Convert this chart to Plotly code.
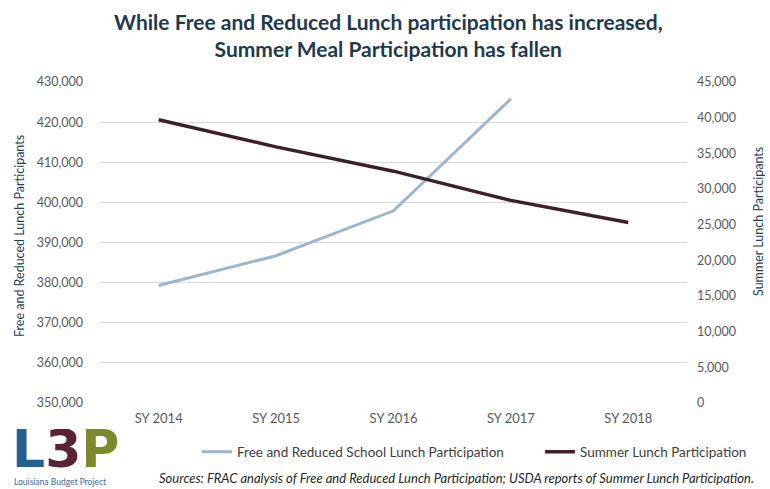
import plotly.graph_objects as go

# ---- data ----
years = ["SY 2014", "SY 2015", "SY 2016", "SY 2017", "SY 2018"]
free_reduced = [379300, 386700, 397900, 425800, None]
summer = [39700, 35900, 32500, 28400, 25300]

left_ticks = list(range(350000, 430001, 10000))
right_ticks = list(range(0, 45001, 5000))

title_text = ("While Free and Reduced Lunch participation has increased,<br>"
              "Summer Meal Participation has fallen")
left_title = "Free and Reduced Lunch Participants"
right_title = "Summer Lunch Participants"
source_text = ("Sources: FRAC analysis of Free and Reduced Lunch Participation; "
               "USDA reports of Summer Lunch Participation.")

W, H = 770, 489
ML, MR, MT, MB = 100, 83, 82, 86
PW = W - ML - MR
PH = H - MT - MB

def px_x(x):
    return (x - ML) / PW

def px_y(y):
    return (H - MB - y) / PH

FONT = "Lato"
TICK_COLOR = "#595959"
TITLE_COLOR = "#243f52"

fig = go.Figure()
fig.add_trace(go.Scatter(
    x=years, y=free_reduced, mode="lines", name="Free and Reduced School Lunch Participation",
    line=dict(color="#9db6cf", width=3), yaxis="y", legend="legend"))
fig.add_trace(go.Scatter(
    x=years, y=summer, mode="lines", name="Summer Lunch Participation",
    line=dict(color="#3d1f2c", width=3.5), yaxis="y2", legend="legend2"))

legend_font = dict(size=13.5, color="#404040", family=FONT)
fig.update_layout(
    width=W, height=H,
    margin=dict(l=ML, r=MR, t=MT, b=MB),
    paper_bgcolor="white", plot_bgcolor="white",
    font=dict(family=FONT, color=TICK_COLOR),
    showlegend=True,
    legend=dict(orientation="h", x=px_x(197), y=px_y(452), xanchor="left", yanchor="middle",
                font=legend_font, bgcolor="rgba(0,0,0,0)"),
    legend2=dict(orientation="h", x=px_x(540), y=px_y(452), xanchor="left", yanchor="middle",
                 font=legend_font, bgcolor="rgba(0,0,0,0)"),
    xaxis=dict(type="category", range=[-0.5, 4.5], showgrid=False, showline=False,
               zeroline=False, ticks="", tickfont=dict(size=13, color=TICK_COLOR),
               ticklabelstandoff=6),
    yaxis=dict(range=[350000, 430000], tickvals=left_ticks, tickformat=",d",
               showgrid=True, gridcolor="#d9d9d9", gridwidth=1, zeroline=False,
               showline=False, ticks="", ticklabelstandoff=16,
               tickfont=dict(size=12.5, color=TICK_COLOR)),
    yaxis2=dict(range=[0, 45000], tickvals=right_ticks, tickformat=",d",
                overlaying="y", side="right", showgrid=False, zeroline=False,
                showline=False, ticks="", ticklabelstandoff=9,
                tickfont=dict(size=12.5, color=TICK_COLOR)),
)

annotations = [
    dict(text="<b>" + title_text + "</b>", x=px_x(388), y=px_y(35), xref="paper", yref="paper",
         xanchor="center", yanchor="middle", showarrow=False,
         font=dict(size=21, color="#1f3a4d", family=FONT)),
    dict(text=left_title, x=px_x(19), y=px_y(236), xref="paper", yref="paper",
         textangle=-90, xanchor="center", yanchor="middle", showarrow=False,
         font=dict(size=12.5, color=TITLE_COLOR, family=FONT)),
    dict(text=right_title, x=px_x(758), y=px_y(222), xref="paper", yref="paper",
         textangle=-90, xanchor="center", yanchor="middle", showarrow=False,
         font=dict(size=12.5, color=TITLE_COLOR, family=FONT)),
    dict(text="<i>" + source_text + "</i>", x=px_x(756), y=px_y(478), xref="paper", yref="paper",
         xanchor="right", yanchor="middle", showarrow=False,
         font=dict(size=13, color="#262626", family=FONT)),
    dict(text=("<b><span style='color:#25618f'>L</span>"
               "<span style='color:#5b2236'>3</span>"
               "<span style='color:#7c8a2c'>P</span></b>"),
         x=px_x(10), y=px_y(449), xref="paper", yref="paper",
         xanchor="left", yanchor="middle", showarrow=False, height=40, valign="middle",
         font=dict(size=52, family="DejaVu Sans", color="#25618f")),
    dict(text="Louisiana Budget Project", x=px_x(12), y=px_y(482), xref="paper", yref="paper",
         xanchor="left", yanchor="middle", showarrow=False,
         font=dict(size=8.5, color="#3a6b93", family=FONT)),
]
fig.update_layout(annotations=annotations)

fig.write_html("out.html", config={"displayModeBar": False},
               post_script="document.body.style.margin='0px';")
